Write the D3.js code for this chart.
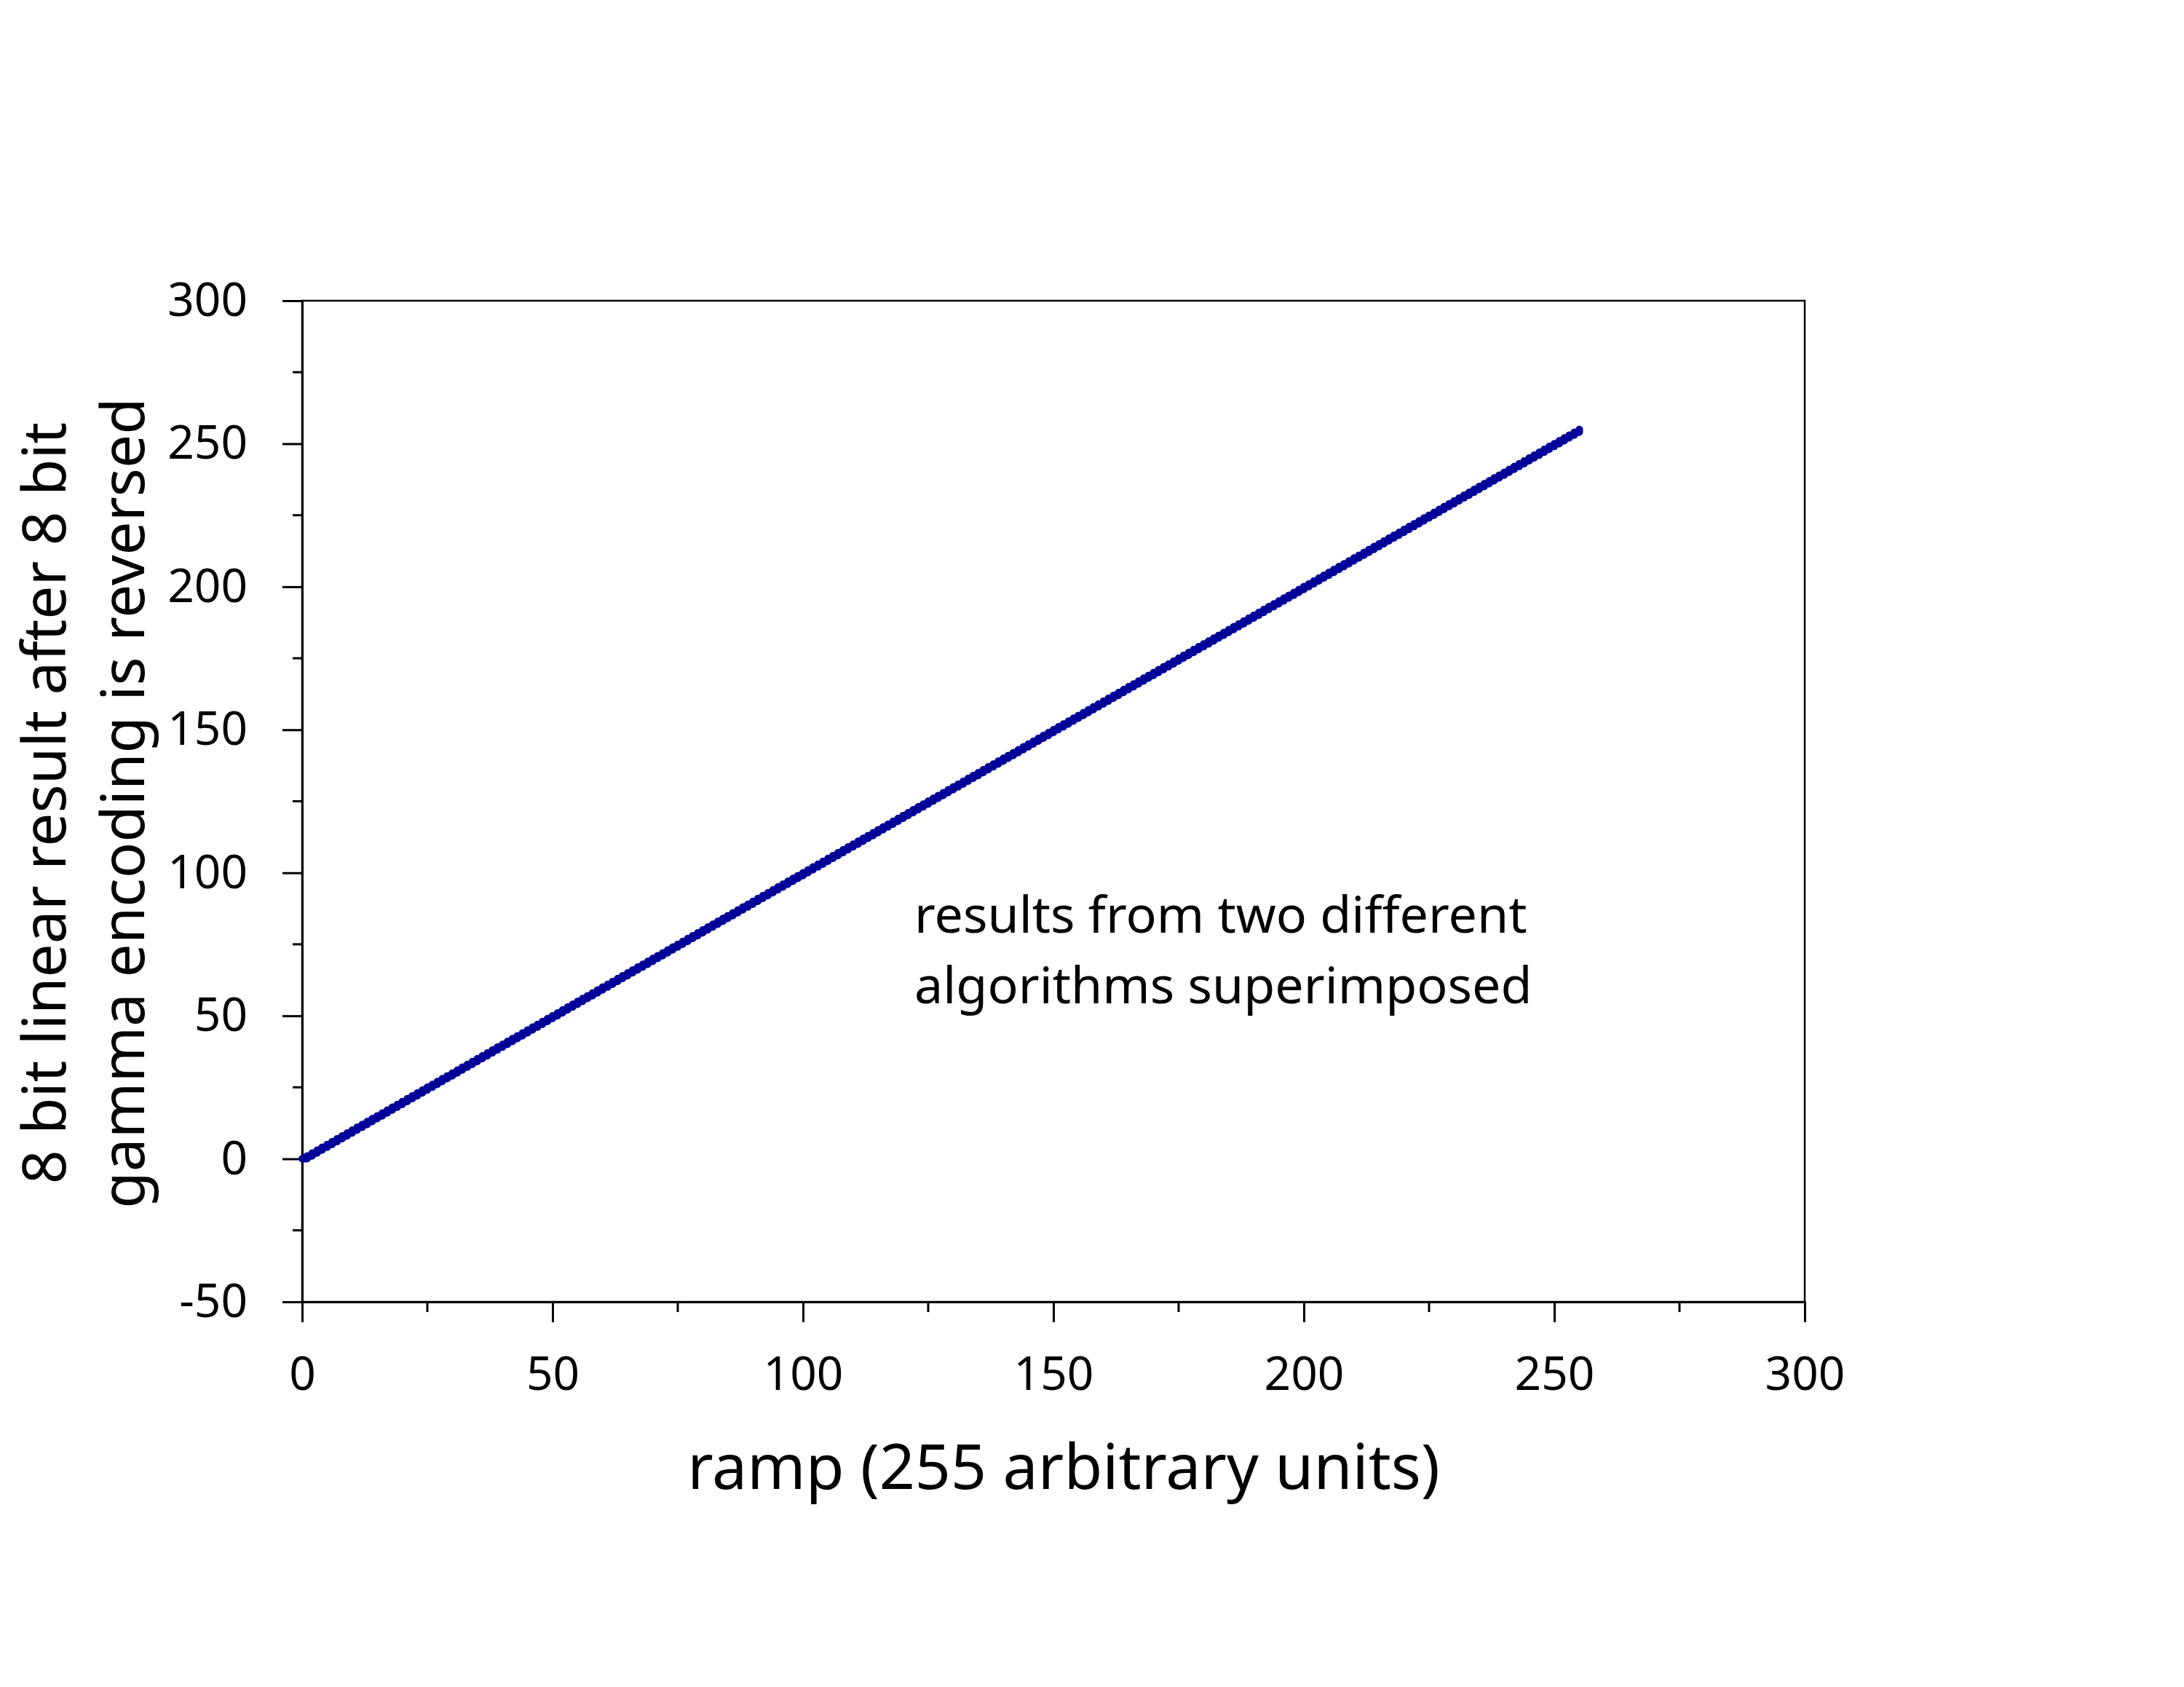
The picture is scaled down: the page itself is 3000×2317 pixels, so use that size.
<!DOCTYPE html>
<html><head><meta charset="utf-8">
<script src="https://cdn.jsdelivr.net/npm/d3@7"></script>
<style>body{margin:0;background:#fff}</style></head>
<body><svg id="c" width="3000" height="2317"></svg>
<script>
const rampX = [0,1,2,3,4,5,6,7,8,9,10,11,12,13,14,15,16,17,18,19,20,21,22,23,24,25,26,27,28,29,30,31,32,33,34,35,36,37,38,39,40,41,42,43,44,45,46,47,48,49,50,51,52,53,54,55,56,57,58,59,60,61,62,63,64,65,66,67,68,69,70,71,72,73,74,75,76,77,78,79,80,81,82,83,84,85,86,87,88,89,90,91,92,93,94,95,96,97,98,99,100,101,102,103,104,105,106,107,108,109,110,111,112,113,114,115,116,117,118,119,120,121,122,123,124,125,126,127,128,129,130,131,132,133,134,135,136,137,138,139,140,141,142,143,144,145,146,147,148,149,150,151,152,153,154,155,156,157,158,159,160,161,162,163,164,165,166,167,168,169,170,171,172,173,174,175,176,177,178,179,180,181,182,183,184,185,186,187,188,189,190,191,192,193,194,195,196,197,198,199,200,201,202,203,204,205,206,207,208,209,210,211,212,213,214,215,216,217,218,219,220,221,222,223,224,225,226,227,228,229,230,231,232,233,234,235,236,237,238,239,240,241,242,243,244,245,246,247,248,249,250,251,252,253,254,255];
const linearResult = [0,1,2,3,4,5,6,7,8,9,10,11,12,13,14,15,16,17,18,19,20,21,22,23,24,25,26,27,28,29,30,31,32,33,34,35,36,37,38,39,40,41,42,43,44,45,46,47,48,49,50,51,52,53,54,55,56,57,58,59,60,61,62,63,64,65,66,67,68,69,70,71,72,73,74,75,76,77,78,79,80,81,82,83,84,85,86,87,88,89,90,91,92,93,94,95,96,97,98,99,100,101,102,103,104,105,106,107,108,109,110,111,112,113,114,115,116,117,118,119,120,121,122,123,124,125,126,127,128,129,130,131,132,133,134,135,136,137,138,139,140,141,142,143,144,145,146,147,148,149,150,151,152,153,154,155,156,157,158,159,160,161,162,163,164,165,166,167,168,169,170,171,172,173,174,175,176,177,178,179,180,181,182,183,184,185,186,187,188,189,190,191,192,193,194,195,196,197,198,199,200,201,202,203,204,205,206,207,208,209,210,211,212,213,214,215,216,217,218,219,220,221,222,223,224,225,226,227,228,229,230,231,232,233,234,235,236,237,238,239,240,241,242,243,244,245,246,247,248,249,250,251,252,253,254,255];
const xTicks = [0,50,100,150,200,250,300];
const yTicks = [-50,0,50,100,150,200,250,300];
const xMinor = [25,75,125,175,225,275];
const yMinor = [-25,25,75,125,175,225,275];

const svg = d3.select('#c');
const L=415,R=2479,T=413,B=1788;
const x = d3.scaleLinear().domain([0,300]).range([L,R]);
const y = d3.scaleLinear().domain([-50,300]).range([B,T]);
const font = '"Noto Sans", "DejaVu Sans", sans-serif';
const fmt = d => String(d);

svg.append('rect').attr('x',L).attr('y',T).attr('width',R-L).attr('height',B-T)
  .attr('fill','none').attr('stroke','#000').attr('stroke-width',2.5);

const ya = svg.append('g').attr('transform',`translate(${L},0)`)
  .call(d3.axisLeft(y).tickValues(yTicks).tickSize(27).tickPadding(48).tickFormat(fmt));
ya.select('.domain').attr('stroke-width',3);
ya.selectAll('line').attr('stroke-width',3);
ya.selectAll('text').attr('font-family',font).attr('font-size',64).attr('fill','#000');
svg.append('g').selectAll('line').data(yMinor).join('line')
  .attr('x1',L-13).attr('x2',L).attr('y1',d=>y(d)).attr('y2',d=>y(d)).attr('stroke','#000').attr('stroke-width',3);

const xa = svg.append('g').attr('transform',`translate(0,${B})`)
  .call(d3.axisBottom(x).tickValues(xTicks).tickSize(28).tickPadding(48).tickFormat(fmt));
xa.select('.domain').attr('stroke-width',3);
xa.selectAll('line').attr('stroke-width',3);
xa.selectAll('text').attr('font-family',font).attr('font-size',64).attr('fill','#000');
svg.append('g').selectAll('line').data(xMinor).join('line')
  .attr('y1',B).attr('y2',B+14).attr('x1',d=>x(d)).attr('x2',d=>x(d)).attr('stroke','#000').attr('stroke-width',3);

const pts = rampX.map((v,i)=>[v,linearResult[i]]);
svg.append('path').datum(pts)
  .attr('d',d3.line().x(d=>x(d[0])).y(d=>y(d[1])).curve(d3.curveStepAfter))
  .attr('fill','none').attr('stroke','#000099').attr('stroke-width',10).attr('stroke-linejoin','round');
svg.append('g').selectAll('circle').data(pts).join('circle')
  .attr('cx',d=>x(d[0])).attr('cy',d=>y(d[1])).attr('r',5).attr('fill','#000099');

svg.append('text').attr('x',1461).attr('y',2045).attr('text-anchor','middle')
  .attr('font-family',font).attr('font-size',86).text('ramp (255 arbitrary units)');
const yt = svg.append('text').attr('transform','translate(0,1103) rotate(-90)')
  .attr('text-anchor','middle').attr('font-family',font).attr('font-size',82);
yt.append('tspan').attr('x',0).attr('y',90).text('8 bit linear result after 8 bit');
yt.append('tspan').attr('x',0).attr('y',198).text('gamma encoding is reversed');

const an = svg.append('text').attr('font-family',font).attr('font-size',70);
an.append('tspan').attr('x',1256).attr('y',1281).text('results from two different');
an.append('tspan').attr('x',1256).attr('y',1378).text('algorithms superimposed');
</script></body></html>
